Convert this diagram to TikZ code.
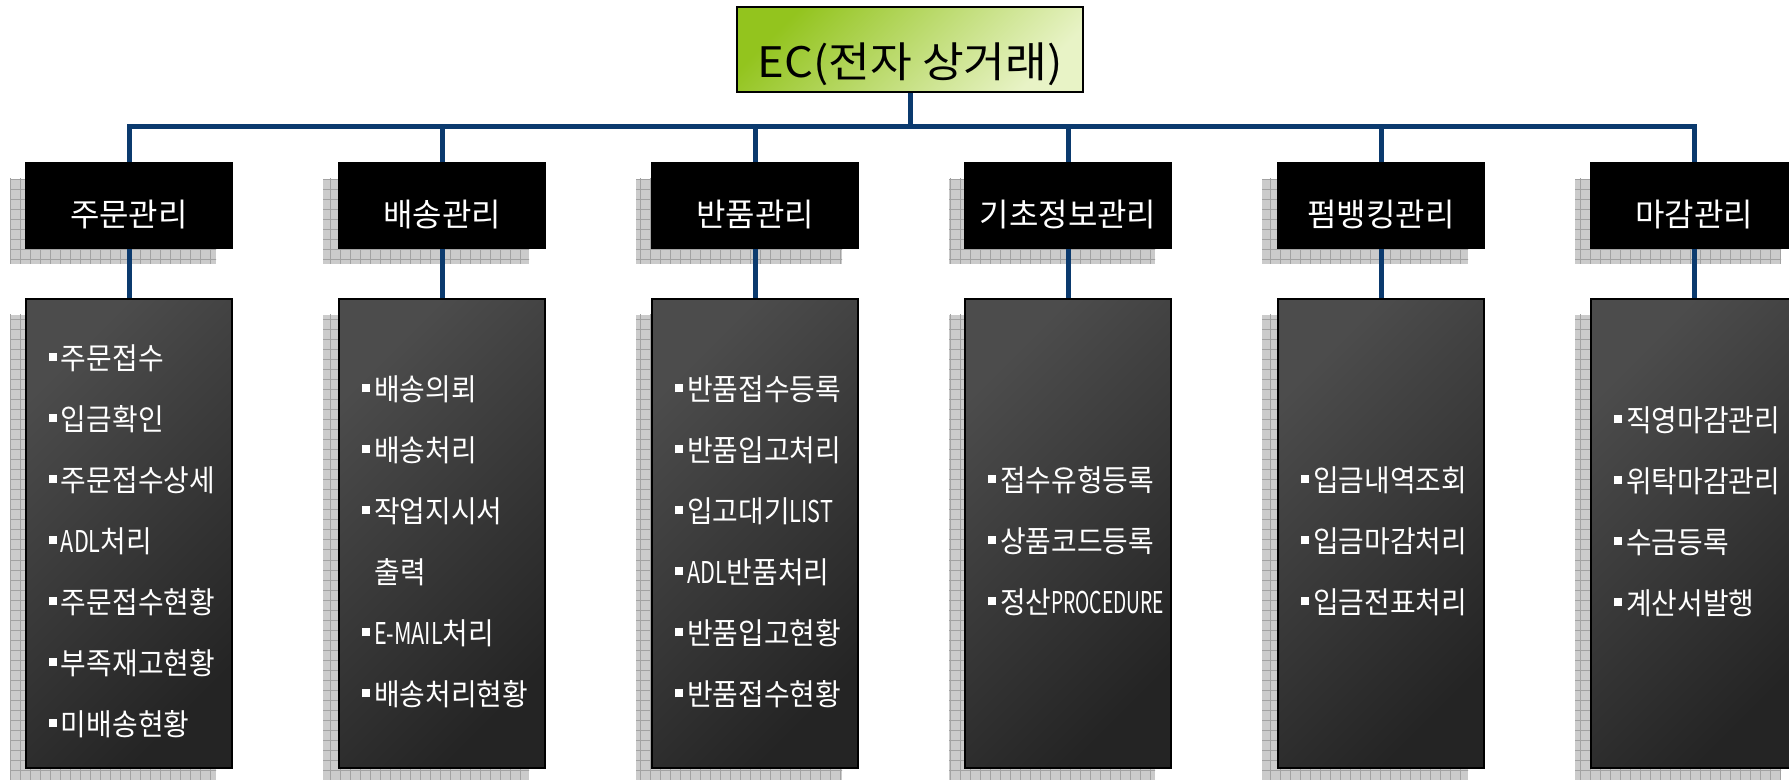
\documentclass[tikz,border=0pt]{standalone}
\usepackage{fontspec}
\setmainfont{Noto Sans CJK KR}
\newfontfamily\krn[FakeStretch=0.93]{Noto Sans CJK KR}
\newfontfamily\krw[FakeStretch=1.08]{Noto Sans CJK KR}
\newfontfamily\nar[FakeStretch=0.72]{Noto Sans CJK KR}
\newfontfamily\narr[FakeStretch=0.64]{Noto Sans CJK KR}
\definecolor{connblue}{HTML}{0B3A6E}
\definecolor{shfillc}{HTML}{CBCBCB}
\definecolor{shlinec}{HTML}{A2A2A2}
\definecolor{titleA}{HTML}{93C41E}
\definecolor{titleB}{HTML}{E8F3C6}
\definecolor{listA}{HTML}{4C4C4C}
\definecolor{listB}{HTML}{242424}
\newcommand{\bul}{\rule[4.3pt]{4pt}{4pt}\hspace{1.8pt}}
\newcommand{\gshadow}[4]{%
  \fill[shfillc] (#1,#2) rectangle (#3,#4);
  \begin{scope}
    \clip (#1,#2) rectangle (#3,#4);
    \draw[shlinec, line width=0.5pt, step=5pt] (#1-10,#2-10) grid (#3+10,#4+10);
  \end{scope}}
\tikzset{
  conn/.style={draw=connblue, line width=2.5pt, line join=miter},
  titlebox/.style={draw=black, line width=1pt, top color=titleA, bottom color=titleB, shading angle=45,
    minimum width=173pt, minimum height=42.5pt, inner sep=0pt, text height=28pt, text depth=0pt,
    font=\krw\fontsize{21pt}{21pt}\selectfont, text=black},
  headbox/.style={draw=black, fill=black, line width=1pt, minimum width=103pt, minimum height=42.5pt,
    inner sep=0pt, text height=20.8pt, text depth=0pt, font=\fontsize{16pt}{16pt}\selectfont, text=white},
  listbox/.style={draw=black, line width=1pt, top color=listA, bottom color=listB, shading angle=45,
    minimum width=103pt, minimum height=234.5pt, inner sep=0pt},
  item/.style={anchor=west, inner sep=0pt, text=white, text height=12.9pt, text depth=0pt,
    font=\krn\fontsize{15pt}{15pt}\selectfont}
}
\begin{document}
\begin{tikzpicture}[x=0.5pt, y=-0.5pt]
\useasboundingbox (0,0) rectangle (1789,780);
% shadows
\foreach \cx in {129,442,755,1068,1381,1694}{
  \gshadow{\cx-119}{179}{\cx+87}{264}
  \gshadow{\cx-119}{315}{\cx+87}{784}
}
% title
\node[titlebox] (t) at (910,49.5) {EC(전자 상거래)};
% headers and list boxes
\node[headbox] (h1) at (129,205.5) {주문관리};
\node[headbox] (h2) at (442,205.5) {배송관리};
\node[headbox] (h3) at (755,205.5) {반품관리};
\node[headbox] (h4) at (1068,205.5) {기초정보관리};
\node[headbox] (h5) at (1381,205.5) {펌뱅킹관리};
\node[headbox] (h6) at (1694,205.5) {마감관리};
\foreach \i/\cx in {1/129,2/442,3/755,4/1068,5/1381,6/1694}{
  \node[listbox] (l\i) at (\cx,533.5) {};
}
% connectors
\coordinate (busL) at (129,127);
\draw[conn] (t.south) -- (t.south |- busL);
\draw[conn] (h1.north) -- (h1.north |- busL) -- (h6.north |- busL) -- (h6.north);
\foreach \i in {2,3,4,5}{
  \draw[conn] (h\i.north) -- (h\i.north |- busL);
}
\foreach \i in {1,...,6}{
  \draw[conn] (h\i.south) -- (l\i.north);
}
% items column 1
\foreach \t [count=\k] in {주문접수,입금확인,주문접수상세,{{\nar ADL}처리},주문접수현황,부족재고현황,미배송현황}{
  \node[item] (a\k) at (49,{357+61*(\k-1)}) {\bul\t};
}
% column 2
\foreach \t [count=\k] in {배송의뢰,배송처리,작업지시서,{\hspace{6pt}출력},{{\nar E-MAIL}처리},배송처리현황}{
  \node[item] (b\k) at (362,{388+61*(\k-1)}) {\ifnum\k=4 \else\bul\fi\t};
}
% column 3
\foreach \t [count=\k] in {반품접수등록,반품입고처리,{입고대기{\nar LIST}},{{\nar ADL}반품처리},반품입고현황,반품접수현황}{
  \node[item] (c\k) at (675,{388+61*(\k-1)}) {\bul\t};
}
% column 4
\foreach \t [count=\k] in {접수유형등록,상품코드등록,{정산{\narr PROCEDURE}}}{
  \node[item] (d\k) at (988,{479+61*(\k-1)}) {\bul\t};
}
% column 5
\foreach \t [count=\k] in {입금내역조회,입금마감처리,입금전표처리}{
  \node[item] (e\k) at (1301,{479+61*(\k-1)}) {\bul\t};
}
% column 6
\foreach \t [count=\k] in {직영마감관리,위탁마감관리,수금등록,계산서발행}{
  \node[item] (f\k) at (1614,{419+61*(\k-1)}) {\bul\t};
}
\end{tikzpicture}
\end{document}
